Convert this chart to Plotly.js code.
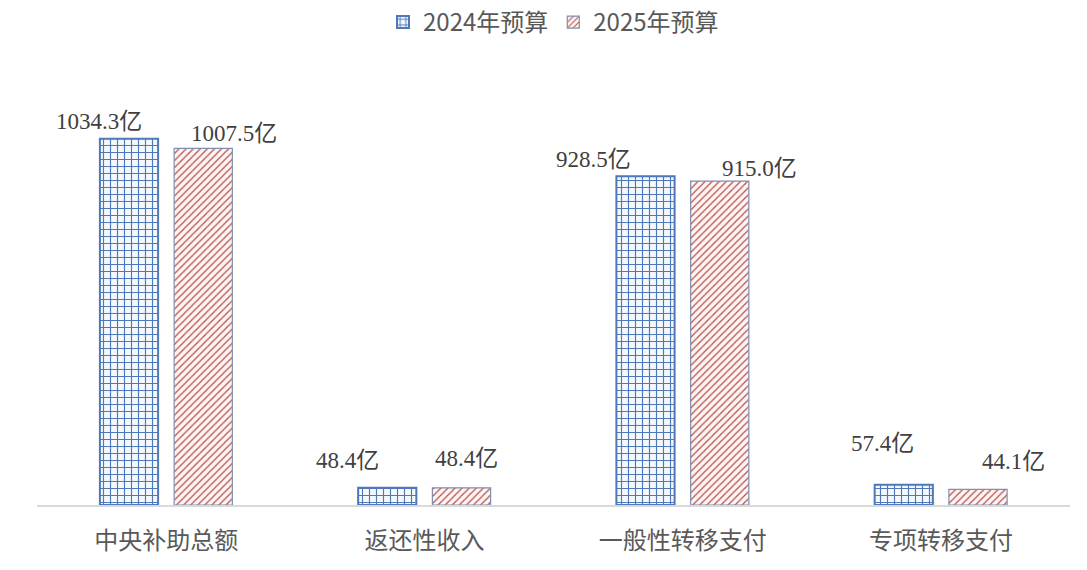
<!DOCTYPE html>
<html>
<head>
<meta charset="utf-8">
<script src="https://cdn.plot.ly/plotly-3.0.1.min.js"></script>
<style>html,body{margin:0;padding:0;background:#fff;}#chart{width:1087px;height:570px;}</style>
</head>
<body>
<div id="chart"></div>
<script>
const categories = ['中央补助总额', '返还性收入', '一般性转移支付', '专项转移支付'];
const values2024 = [1034.3, 48.4, 928.5, 57.4];
const values2025 = [1007.5, 48.4, 915.0, 44.1];
const seriesNames = ['2024年预算', '2025年预算'];
const unit = '亿';

// label nudges (pixels), style only
const shift2024 = [[-30, 3], [-40, 13], [-52, 2], [-21, 27]];
const shift2025 = [[31, 0], [5, 15], [40, -2], [36, 13]];

const traces = [
  {
    type: 'bar', name: seriesNames[0], x: categories, y: values2024,
    marker: {
      color: '#ffffff',
      line: {color: '#4f78b8', width: 2},
      pattern: {shape: '+', size: 7, solidity: 0.3, fgcolor: '#4f78b8', bgcolor: '#f4f8fc', fillmode: 'replace'}
    },
    hoverinfo: 'none'
  },
  {
    type: 'bar', name: seriesNames[1], x: categories, y: values2025,
    marker: {
      color: '#ffffff',
      line: {color: '#7f8fb0', width: 1.2},
      pattern: {shape: '/', size: 5, solidity: 0.25, fgcolor: '#b8504c', bgcolor: '#fdf5f3', fillmode: 'replace'}
    },
    hoverinfo: 'none'
  }
];

const off = 0.1437;
const labelFont = {family: 'Liberation Serif, Noto Sans CJK SC, serif', size: 23, color: '#404040'};
const annotations = [];
values2024.forEach((v, i) => annotations.push({
  x: i - off, y: v, xref: 'x', yref: 'y', text: v.toFixed(1) + unit, showarrow: false,
  yanchor: 'bottom', xanchor: 'center', xshift: shift2024[i][0], yshift: shift2024[i][1],
  font: labelFont
}));
values2025.forEach((v, i) => annotations.push({
  x: i + off, y: v, xref: 'x', yref: 'y', text: v.toFixed(1) + unit, showarrow: false,
  yanchor: 'bottom', xanchor: 'center', xshift: shift2025[i][0], yshift: shift2025[i][1],
  font: labelFont
}));

const layout = {
  width: 1087, height: 570,
  margin: {l: 37, r: 17, t: 100, b: 65},
  paper_bgcolor: '#ffffff', plot_bgcolor: '#ffffff',
  barmode: 'group', bargap: 0.425, bargroupgap: 0.216,
  showlegend: true,
  legend: {
    orientation: 'h', x: 0.5, xanchor: 'center', y: 1.0, yref: 'container', yanchor: 'top',
    font: {family: 'Noto Sans CJK SC, sans-serif', size: 24, color: '#595959'},
    itemwidth: 30, traceorder: 'normal'
  },
  xaxis: {
    type: 'category', range: [-0.5, 3.5], autorange: false,
    showgrid: false, zeroline: false,
    showline: true, linecolor: '#d9d9d9', linewidth: 1.5,
    ticks: '', ticklabelstandoff: 14,
    tickfont: {family: 'Noto Sans CJK SC, sans-serif', size: 24, color: '#595959'}
  },
  yaxis: {
    range: [0, 1144], autorange: false, showgrid: false, zeroline: false, showline: false,
    showticklabels: false, ticks: ''
  },
  annotations: annotations
};

Plotly.newPlot('chart', traces, layout, {displayModeBar: false, staticPlot: true});
</script>
</body>
</html>
